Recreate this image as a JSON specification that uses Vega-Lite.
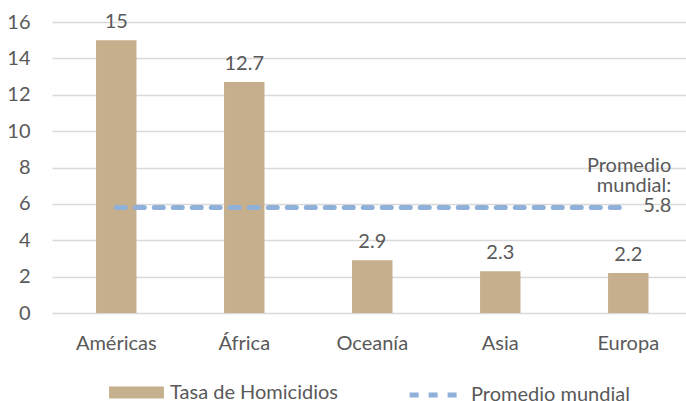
{
  "$schema": "https://vega.github.io/schema/vega-lite/v6.json",
  "autosize": {"type": "none"},
  "width": 634,
  "height": 291,
  "padding": {"left": 52, "top": 22, "right": 0, "bottom": 88},
  "background": "white",
  "config": {
    "font": "Lato",
    "view": {"stroke": null},
    "axis": {"labelFont": "Lato", "labelFontSize": 20, "labelColor": "#595959", "ticks": false, "domain": false, "gridColor": "#d9d9d9", "gridWidth": 1.5, "labelOverlap": false},
    "legend": {"labelFont": "Lato", "labelFontSize": 20, "labelColor": "#595959", "labelLimit": 400}
  },
  "data": {
    "values": [
      {"region": "Américas", "tasa": 15, "promedio": 5.8},
      {"region": "África", "tasa": 12.7, "promedio": 5.8},
      {"region": "Oceanía", "tasa": 2.9, "promedio": 5.8},
      {"region": "Asia", "tasa": 2.3, "promedio": 5.8},
      {"region": "Europa", "tasa": 2.2, "promedio": 5.8}
    ]
  },
  "encoding": {
    "x": {"field": "region", "type": "nominal", "sort": null,
      "scale": {"paddingInner": 0.684, "paddingOuter": 0.3185, "align": 0.54},
      "axis": {"title": null, "labelAngle": 0, "labelPadding": 20, "grid": false}}
  },
  "layer": [
    {
      "mark": {"type": "bar", "color": "#C6AF8C"},
      "encoding": {
        "y": {"field": "tasa", "type": "quantitative", "scale": {"domain": [0, 16]},
          "axis": {"title": null, "values": [0,2,4,6,8,10,12,14,16], "labelPadding": 22}},
        "fill": {"datum": "Tasa de Homicidios", "type": "nominal",
          "scale": {"range": ["#C6AF8C"]},
          "legend": {"title": null, "orient": "none", "legendX": 57, "legendY": 343, "symbolType": "M-1,-0.22H1V0.22H-1Z", "symbolSize": 3000, "symbolStrokeWidth": 0, "labelOffset": 6, "padding": 0}}
      }
    },
    {
      "mark": {"type": "text", "baseline": "alphabetic", "dy": -12, "fontSize": 20, "color": "#595959"},
      "encoding": {
        "y": {"field": "tasa", "type": "quantitative",
          "axis": {"title": null, "values": [0,2,4,6,8,10,12,14,16], "labelPadding": 22}},
        "text": {"field": "tasa", "type": "quantitative"}
      }
    },
    {
      "mark": {"type": "line", "strokeWidth": 5, "strokeDash": [9, 10], "strokeCap": "round"},
      "encoding": {
        "y": {"field": "promedio", "type": "quantitative",
          "axis": {"title": null, "values": [0,2,4,6,8,10,12,14,16], "labelPadding": 22}},
        "stroke": {"datum": "Promedio mundial", "type": "nominal",
          "scale": {"range": ["#8FB0D8"]},
          "legend": {"title": null, "orient": "none", "legendX": 355, "legendY": 343, "symbolType": "stroke", "symbolSize": 3000, "symbolStrokeWidth": 5, "symbolDash": [9, 10], "labelOffset": 4, "padding": 0}}
      }
    },
    {
      "transform": [{"filter": "datum.region === 'Europa'"}],
      "mark": {"type": "text", "text": ["Promedio", "mundial:", "5.8"], "align": "right", "baseline": "alphabetic", "dx": 43, "dy": -36, "lineHeight": 20, "fontSize": 20, "color": "#595959"},
      "encoding": {
        "y": {"field": "promedio", "type": "quantitative",
          "axis": {"title": null, "values": [0,2,4,6,8,10,12,14,16], "labelPadding": 22}}
      }
    }
  ]
}
